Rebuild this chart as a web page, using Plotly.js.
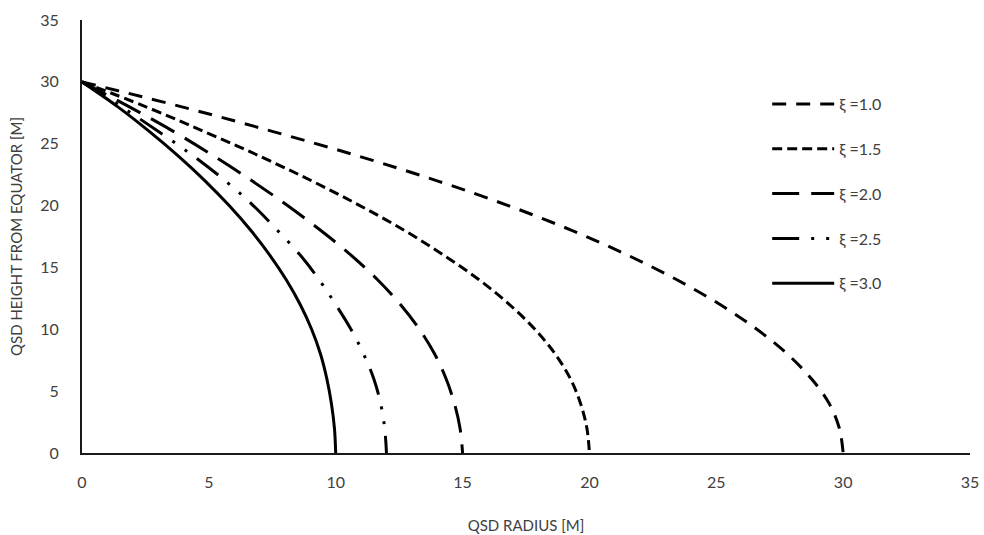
<!DOCTYPE html>
<html>
<head>
<meta charset="utf-8">
<script src="https://cdn.plot.ly/plotly-3.0.1.min.js"></script>
<style>html,body{margin:0;padding:0;background:#fff;}#chart{width:984px;height:535px;}</style>
</head>
<body>
<div id="chart"></div>
<script>
// Series labels
const seriesNames = ["ξ =1.0", "ξ =1.5", "ξ =2.0", "ξ =2.5", "ξ =3.0"];

const heights = [30, 28, 26, 24, 22, 20, 18, 16, 14, 12, 10, 8, 6, 4, 2, 0];

// Radius of each curve at those heights
const r10 = [0, 3.9, 7.5, 10.9, 14.0, 16.8, 19.3, 21.5, 23.45, 25.15, 26.6, 27.8, 28.75, 29.45, 29.85, 30];
const r15 = [0, 2.5, 4.8, 7.0, 9.05, 10.95, 12.7, 14.25, 15.65, 16.85, 17.85, 18.65, 19.25, 19.65, 19.9, 20];
const r20 = [0, 1.85, 3.6, 5.2, 6.7, 8.1, 9.4, 10.6, 11.65, 12.55, 13.3, 13.9, 14.35, 14.68, 14.9, 15];
const r25 = [0, 1.55, 3.0, 4.4, 5.65, 6.75, 7.7, 8.6, 9.35, 10.0, 10.6, 11.1, 11.5, 11.77, 11.93, 12];
const r30 = [0, 1.4, 2.65, 3.8, 4.85, 5.8, 6.65, 7.4, 8.05, 8.6, 9.05, 9.4, 9.65, 9.83, 9.95, 10];

// Axis ticks
const xTicks = [0, 5, 10, 15, 20, 25, 30, 35];
const yTicks = [0, 5, 10, 15, 20, 25, 30, 35];

const radii = [r10, r15, r20, r25, r30];
const dashes = ["14px,10px", "10px,5px", "27px,12px", "27px,12px,3px,12px,3px,12px", "solid"];

const traces = radii.map((r, i) => ({
  x: r, y: heights, name: seriesNames[i], type: "scatter", mode: "lines",
  legendgroup: "g" + i,
  line: {color: "#000000", width: 3, dash: dashes[i], shape: "spline", smoothing: 1}
}));

const fam = "Lato, 'Open Sans', sans-serif";
const tickFont = {family: fam, size: 16, color: "#404040"};
const layout = {
  width: 984, height: 535,
  margin: {l: 82, r: 14, t: 20, b: 82},
  paper_bgcolor: "#ffffff", plot_bgcolor: "#ffffff",
  showlegend: true,
  legend: {x: 0.7716, y: 0.845, xanchor: "left", yanchor: "top", traceorder: "grouped", tracegroupgap: 21,
           itemwidth: 62,
           font: {family: fam, size: 16, color: "#404040"}, bgcolor: "rgba(0,0,0,0)"},
  xaxis: {range: [0, 35], tickvals: xTicks, ticktext: xTicks.map(String), showgrid: false, zeroline: false,
          showline: true, linecolor: "#1a1a1a", linewidth: 2, ticks: "", ticklabelstandoff: 14, tickfont: tickFont,
          title: {text: "QSD RADIUS [M]", font: {family: fam, size: 15, color: "#404040"}, standoff: 30}},
  yaxis: {range: [0, 35], tickvals: yTicks, ticktext: yTicks.map(String), showgrid: false, zeroline: false,
          showline: true, linecolor: "#1a1a1a", linewidth: 2, ticks: "", ticklabelstandoff: 18, tickfont: tickFont,
          title: {text: "QSD HEIGHT FROM EQUATOR [M]", font: {family: fam, size: 15, color: "#404040"}, standoff: 14}}
};
Plotly.newPlot("chart", traces, layout, {displayModeBar: false, staticPlot: true});
</script>
</body>
</html>
